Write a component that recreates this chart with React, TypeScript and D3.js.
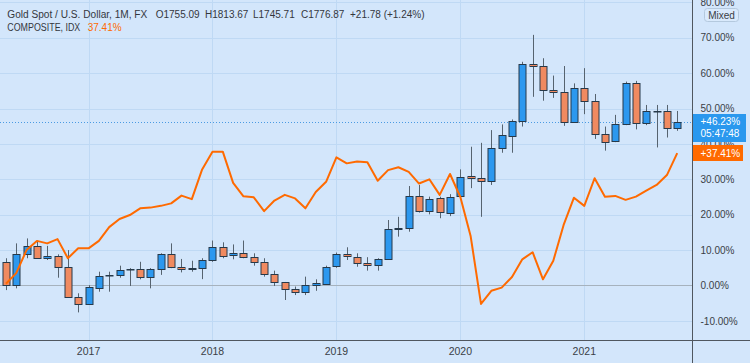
import { useEffect, useRef } from "react";
import * as d3 from "d3";

// monthly bars, May 2016 .. Oct 2021
const months = [
  "2016-05", "2016-06", "2016-07", "2016-08", "2016-09", "2016-10", "2016-11", "2016-12",
  "2017-01", "2017-02", "2017-03", "2017-04", "2017-05", "2017-06", "2017-07", "2017-08", "2017-09", "2017-10", "2017-11", "2017-12",
  "2018-01", "2018-02", "2018-03", "2018-04", "2018-05", "2018-06", "2018-07", "2018-08", "2018-09", "2018-10", "2018-11", "2018-12",
  "2019-01", "2019-02", "2019-03", "2019-04", "2019-05", "2019-06", "2019-07", "2019-08", "2019-09", "2019-10", "2019-11", "2019-12",
  "2020-01", "2020-02", "2020-03", "2020-04", "2020-05", "2020-06", "2020-07", "2020-08", "2020-09", "2020-10", "2020-11", "2020-12",
  "2021-01", "2021-02", "2021-03", "2021-04", "2021-05", "2021-06", "2021-07", "2021-08", "2021-09", "2021-10",
];

// gold, % change vs first close
const open = [
  6.5, 0.0, 8.8, 11.2, 7.7, 8.3, 5.1, -3.3,
  -5.2, -0.5, 2.8, 2.9, 4.5, 4.6, 2.2, 4.6, 8.8, 5.3, 4.6, 5.0,
  7.2, 10.8, 8.4, 9.1, 8.1, 6.7, 3.2, 0.9, -1.1, -1.9, 0.0, 0.6,
  5.3, 8.8, 8.1, 6.4, 5.8, 7.4, 16.0, 16.2, 25.3, 21.1, 24.6, 20.6,
  25.1, 30.9, 30.5, 29.6, 38.8, 42.4, 46.6, 62.6, 62.0, 55.2, 54.7, 46.3,
  55.9, 52.2, 42.8, 40.6, 45.5, 57.1, 45.8, 49.3, 49.3, 44.4,
];
const high = [
  7.7, 11.9, 13.3, 12.7, 11.2, 8.8, 10.0, -2.2,
  0.1, 3.9, 3.9, 5.6, 4.9, 6.7, 4.9, 9.1, 11.9, 7.5, 7.0, 7.7,
  12.7, 12.2, 11.6, 12.7, 9.1, 7.7, 4.2, 1.0, -0.3, 2.5, 1.75, 5.6,
  9.3, 10.8, 9.1, 8.0, 7.7, 18.5, 19.4, 28.1, 28.4, 25.1, 25.1, 25.8,
  32.8, 39.2, 40.3, 43.9, 45.5, 46.9, 63.2, 70.8, 64.2, 59.3, 62.0, 57.1,
  61.4, 54.1, 44.9, 48.2, 57.6, 57.8, 51.0, 51.0, 51.0, 49.3,
];
const low = [
  -1.3, -0.8, 7.7, 7.5, 7.2, 2.2, -3.4, -7.6,
  -5.5, -1.75, -1.75, 2.2, -0.15, 1.75, -0.8, 3.0, 4.9, 3.7, 3.9, 1.8,
  6.7, 7.7, 7.4, 7.7, 5.6, 2.5, -0.15, -4.1, -2.7, -2.7, -1.5, 0.4,
  5.0, 7.2, 5.3, 4.2, 4.2, 7.2, 13.8, 15.2, 20.6, 20.1, 19.0, 19.6,
  24.9, 27.5, 19.4, 28.4, 37.5, 37.5, 44.9, 53.3, 52.2, 53.0, 45.1, 46.0,
  48.4, 41.4, 38.1, 40.5, 45.3, 44.1, 45.3, 39.0, 41.8, 43.7,
];
const close = [
  0.0, 8.8, 11.2, 7.7, 8.3, 5.1, -3.3, -5.2,
  -0.5, 2.8, 2.9, 4.4, 4.6, 2.2, 4.6, 8.8, 5.1, 4.6, 5.0, 7.2,
  10.8, 8.3, 9.1, 8.1, 6.7, 3.2, 0.9, -1.1, -1.9, 0.0, 0.6, 5.3,
  8.8, 8.1, 6.4, 5.8, 7.4, 16.0, 16.2, 25.3, 21.1, 24.4, 20.6, 25.1,
  30.6, 30.3, 29.6, 38.8, 42.4, 46.6, 62.6, 62.0, 55.2, 54.7, 46.3, 55.9,
  52.2, 42.8, 40.6, 45.5, 57.1, 45.8, 49.3, 49.4, 44.4, 46.23,
];

// COMPOSITE, IDX, % change
const composite = [
  0.5, 3.5, 10.0, 12.6, 11.9, 13.1, 7.7, 10.5,
  10.5, 12.6, 16.5, 18.8, 19.9, 21.8, 22.0, 22.5, 23.2, 25.4, 24.4, 32.8,
  37.8, 37.8, 29.0, 25.2, 24.9, 21.0, 24.0, 25.6, 24.6, 21.8, 26.4, 29.3,
  36.2, 34.5, 35.0, 34.8, 29.6, 32.6, 33.4, 32.1, 28.8, 30.0, 25.6, 31.5,
  25.0, 13.9, -5.2, -1.5, -0.6, 2.4, 7.4, 9.4, 1.75, 7.0, 17.1, 24.8,
  22.5, 30.3, 25.1, 25.3, 24.2, 25.1, 26.8, 28.4, 31.2, 37.41,
];

const yearTicks = ["2017-01", "2018-01", "2019-01", "2020-01", "2021-01"];
const pctTicks = [-10, 0, 10, 20, 30, 40, 50, 60, 70, 80];

const FONT = "'Liberation Sans', Arial, sans-serif";
const BG = "#d3e6fb";
const GRID = "#bfd9f4";
const UP = "#2c98ef";
const DOWN = "#f08a60";
const BORDER = "#26394a";
const WICK = "#56636f";
const LINE = "#ff6a00";
const TEXT = "#3a3f46";

export default function App() {
  const gx = useRef<SVGGElement>(null);
  const gy = useRef<SVGGElement>(null);

  const width = 750;
  const height = 363;
  const plotRight = 692.5;
  const axisY = 340.5;

  const x = d3.scaleBand<string>().domain(months).range([0.74, 682.4]);
  const y = d3.scaleLinear().domain([-10, 80]).range([320.9, 2.3]);
  const cx = (m: string) => (x(m) as number) + x.bandwidth() / 2;
  const bodyW = 7;

  const line = d3
    .line<number>()
    .x((_, i) => cx(months[i]))
    .y((d) => y(d));

  useEffect(() => {
    const ya = d3.select(gy.current!);
    ya.selectAll("*").remove();
    ya.call(
      d3
        .axisRight(y)
        .tickValues(pctTicks)
        .tickSize(0)
        .tickPadding(8)
        .tickFormat((d) => (d as number).toFixed(2) + "%") as any
    );
    ya.select(".domain").remove();
    ya.selectAll("text").attr("font-family", FONT).attr("font-size", 10).attr("fill", TEXT);

    const xa = d3.select(gx.current!);
    xa.selectAll("*").remove();
    xa.call(
      d3
        .axisBottom(x)
        .tickValues(yearTicks)
        .tickSize(0)
        .tickPadding(8)
        .tickFormat((d) => d.slice(0, 4)) as any
    );
    xa.select(".domain").remove();
    xa.selectAll("text").attr("font-family", FONT).attr("font-size", 10.5).attr("fill", TEXT);
  }, []);

  const last = close[close.length - 1];
  const lastComp = composite[composite.length - 1];

  return (
    <svg
      width={width}
      height={height}
      style={{ position: "absolute", left: 0, top: 0, display: "block" }}
    >
      <rect x={0} y={0} width={width} height={height} fill={BG} />

      {/* grid */}
      {pctTicks
        .filter((t) => t !== 0)
        .map((t) => (
          <line key={t} x1={0} x2={plotRight} y1={Math.round(y(t)) + 0.5} y2={Math.round(y(t)) + 0.5} stroke={GRID} />
        ))}
      {yearTicks.map((m) => (
        <line key={m} x1={Math.round(cx(m)) + 0.5} x2={Math.round(cx(m)) + 0.5} y1={0} y2={axisY} stroke={GRID} />
      ))}
      <line x1={0} x2={plotRight} y1={Math.round(y(0)) + 0.5} y2={Math.round(y(0)) + 0.5} stroke="#a6b2bd" />

      {/* last price dotted line */}
      <line
        x1={0}
        x2={plotRight}
        y1={Math.round(y(last)) + 0.5}
        y2={Math.round(y(last)) + 0.5}
        stroke="#4a9be3"
        strokeDasharray="1,2"
      />

      {/* candles */}
      {months.map((m, i) => {
        const o = open[i];
        const c = close[i];
        const xc = Math.round(cx(m)) + 0.5;
        const top = y(Math.max(o, c));
        const bot = y(Math.min(o, c));
        return (
          <g key={m}>
            <line x1={xc} x2={xc} y1={y(high[i])} y2={y(low[i])} stroke={WICK} />
            <rect
              x={xc - bodyW / 2}
              y={Math.round(top) + 0.5}
              width={bodyW}
              height={Math.max(0.5, Math.round(bot - top))}
              fill={c >= o ? UP : DOWN}
              stroke={BORDER}
            />
          </g>
        );
      })}

      {/* composite */}
      <path d={line(composite) || ""} fill="none" stroke={LINE} strokeWidth={2} strokeLinejoin="round" />

      {/* axes frame */}
      <line x1={0} x2={width} y1={axisY} y2={axisY} stroke="#50575f" />
      <line x1={plotRight} x2={plotRight} y1={0} y2={height} stroke="#50575f" />

      <g ref={gy} transform={`translate(${plotRight},0)`} />
      <g ref={gx} transform={`translate(0,${axisY - 0.5})`} />

      {/* scale mode */}
      <rect x={704.5} y={8.5} width={34} height={13} rx={3} fill="#d9eafc" stroke="#b4c9de" />
      <text x={721.5} y={18.5} textAnchor="middle" fontFamily={FONT} fontSize={10} fill={TEXT}>
        Mixed
      </text>

      {/* last value labels */}
      <rect x={693} y={Math.round(y(last)) - 8} width={53} height={28} fill="#2a98ee" />
      <text x={700.5} y={y(last) + 3} fontFamily={FONT} fontSize={10} fill="#fff">
        {`+${last.toFixed(2)}%`}
      </text>
      <text x={700.5} y={y(last) + 15} fontFamily={FONT} fontSize={10} fill="#fff">
        05:47:48
      </text>
      <rect x={693} y={Math.round(y(lastComp)) - 8} width={50} height={16} fill={LINE} />
      <text x={700.5} y={y(lastComp) + 4} fontFamily={FONT} fontSize={10} fill="#fff">
        {`+${lastComp.toFixed(2)}%`}
      </text>

      {/* legend */}
      <g fontFamily={FONT} fontSize={10} fill="#33373d">
        <text x={7.3} y={17.7} textLength={140} lengthAdjust="spacingAndGlyphs">
          Gold Spot / U.S. Dollar, 1M, FX
        </text>
        <text x={155.7} y={17.7}>O1755.09</text>
        <text x={205} y={17.7}>H1813.67</text>
        <text x={253} y={17.7}>L1745.71</text>
        <text x={301} y={17.7}>C1776.87</text>
        <text x={350} y={17.7}>+21.78 (+1.24%)</text>
        <text x={7.3} y={31.3} textLength={73} lengthAdjust="spacingAndGlyphs">
          COMPOSITE, IDX
        </text>
        <text x={87.7} y={31.3} fill={LINE}>
          {`${lastComp.toFixed(2)}%`}
        </text>
      </g>
    </svg>
  );
}
